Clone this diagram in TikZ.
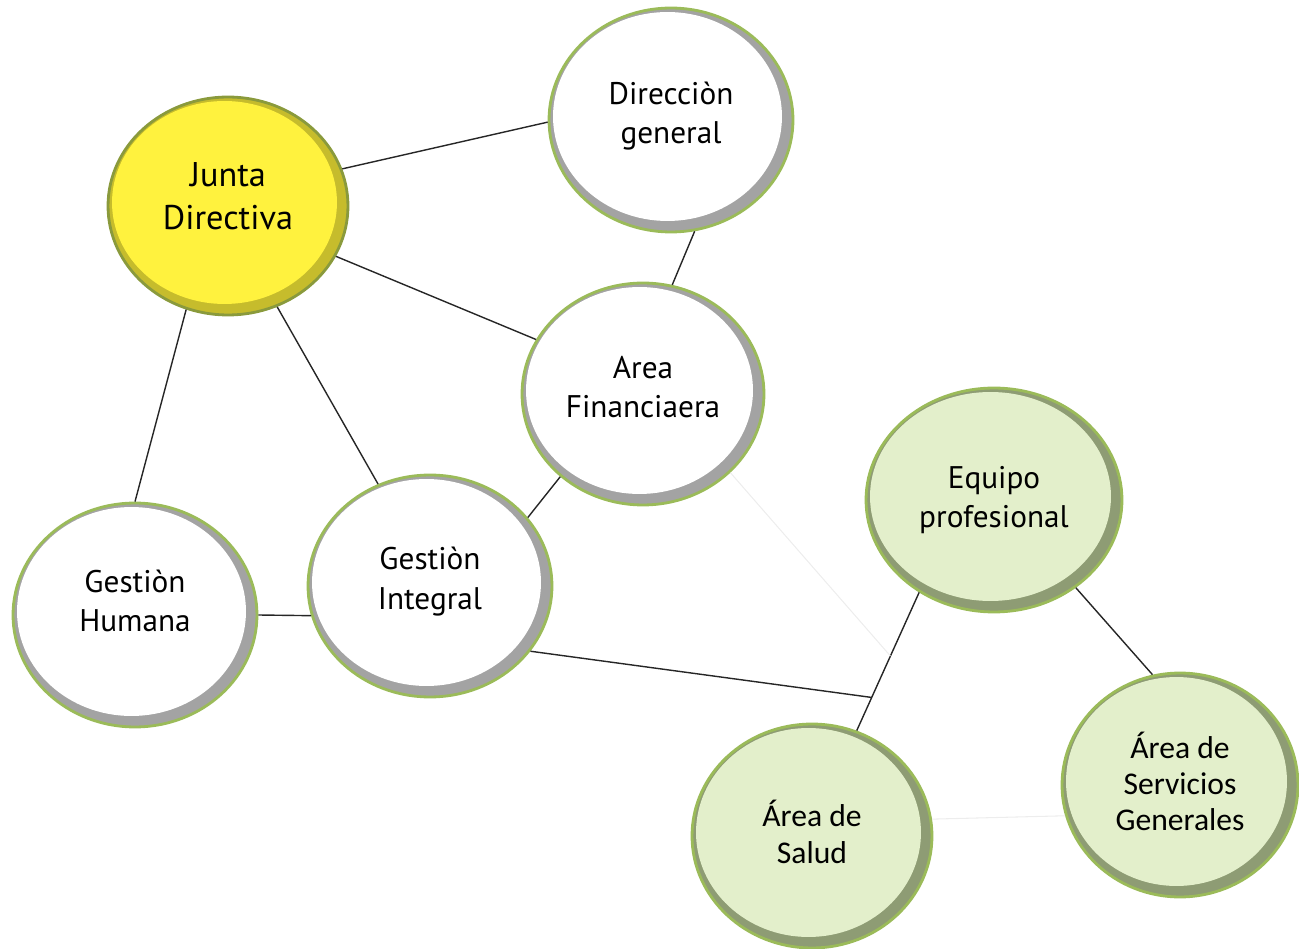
\documentclass[tikz,border=0pt]{standalone}
\usepackage{fontspec}
\setmainfont{PT Sans}
\newfontfamily\calibrifont{Carlito}
\usetikzlibrary{shapes.geometric,calc}

\definecolor{bordeverde}{HTML}{9BBB59}
\definecolor{bordeoliva}{HTML}{8A9A3C}
\definecolor{anillogris}{HTML}{A3A3A3}
\definecolor{anilloamar}{HTML}{C6BC2C}
\definecolor{anilloverde}{HTML}{8E9C74}
\definecolor{amarillo}{HTML}{FFF23E}
\definecolor{verdeclaro}{HTML}{E3EFCB}

\begin{document}
\begin{tikzpicture}[x=0.02cm,y=-0.02cm,
	burbuja/.style={ellipse, inner sep=0pt, align=center, draw=bordeverde, line width=1.6pt,
		minimum width=4.84cm, minimum height=4.44cm, fill=#1,
		font=\fontsize{17.8pt}{22.5pt}\selectfont},
	relleno/.style={path picture={\fill[#1] let \p1=(path picture bounding box.south west),
			\p2=(path picture bounding box.north east) in
			($(\p1)!0.5!(\p2)+(-0.07cm,0.07cm)$) ellipse ({(\x2-\x1)/2-0.15cm} and {(\y2-\y1)/2-0.15cm});}},
	blanco/.style={burbuja=anillogris, relleno=white},
	junta/.style={burbuja=anilloamar, relleno=amarillo, draw=bordeoliva,
		font=\fontsize{19.5pt}{24.5pt}\selectfont},
	verde/.style={burbuja=anilloverde, relleno=verdeclaro},
	enlace/.style={line width=0.8pt, black!85},
	tenue/.style={line width=0.6pt, black!7}]
	%%Location
	\useasboundingbox (0,0) rectangle (1299,949);
	%%Nodes
	\node[junta, minimum width=4.8cm, minimum height=4.36cm, text depth=11pt] (junta) at (228,206) {Junta\\Directiva};
	\node[blanco, minimum width=4.88cm, minimum height=4.48cm, text depth=8pt] (direccion) at (671,120) {Direcciòn\\general};
	\node[blanco, text depth=8pt] (financiera) at (643,394) {Area\\Financiaera};
	\node[blanco, minimum width=4.88cm, minimum height=4.48cm, text depth=16pt] (humana) at (135,615) {Gestiòn\\Humana};
	\node[blanco, minimum width=4.88cm, text depth=9pt] (integral) at (430,586) {Gestiòn\\Integral};
	\node[verde, minimum width=5.12cm, minimum height=4.48cm] (equipo) at (994,500) {Equipo\\profesional};
	\node[verde, minimum width=4.8cm, minimum height=4.48cm, text depth=4.5pt, font=\calibrifont\fontsize{18pt}{21pt}\selectfont] (salud) at (812,836) {Área de\\Salud};
	\node[verde, minimum width=4.72cm, minimum height=4.48cm, text depth=4.5pt, font=\calibrifont\fontsize{18pt}{20.5pt}\selectfont] (servicios) at (1180,785) {Área de\\Servicios\\Generales};
	%%Crossing points
	\coordinate (cruce) at ($(equipo.231)!0.76!(salud.67)$);
	\coordinate (cruce2) at ($(equipo.231)!0.46!(salud.67)$);
	%%Links
	\draw[enlace] (junta.18) -- (direccion.181);
	\draw[enlace] (junta.-25) -- (financiera.153);
	\draw[enlace] (direccion.-78) -- (financiera.75);
	\draw[enlace] (junta.248) -- (humana.90);
	\draw[enlace] (junta.-64) -- (integral.117);
	\draw[enlace] (financiera.225) -- (integral.35);
	\draw[enlace] (humana.0) -- (integral.194);
	\draw[enlace] (integral.-33) -- (cruce);
	\draw[enlace] (equipo.231) -- (salud.67);
	\draw[enlace] (equipo.-47) -- (servicios.104);
	\draw[tenue] (financiera.-42) -- (cruce2);
	\draw[tenue] (salud.8) -- (servicios.195);
\end{tikzpicture}
\end{document}
